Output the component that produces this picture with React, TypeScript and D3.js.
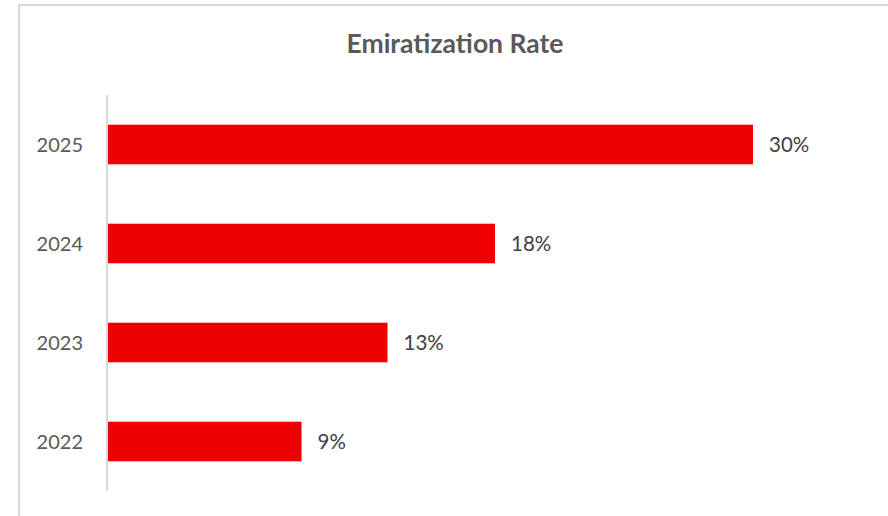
import React from "react";
import * as d3 from "d3";

const categories: string[] = ["2025", "2024", "2023", "2022"];
const values: number[] = [0.30, 0.18, 0.13, 0.09];
const valueLabels: string[] = ["30%", "18%", "13%", "9%"];
const title = "Emiratization Rate";

const W = 888;
const H = 516;
const FONT = "Lato, 'Open Sans', sans-serif";

export default function App() {
  const y = d3.scaleBand<string>().domain(categories).range([95, 491]).paddingInner(0.6).paddingOuter(0.3);
  const x = d3.scaleLinear().domain([0, 0.35]).range([108, 860.5]);

  return (
    <svg width={W} height={H} style={{ position: "absolute", left: 0, top: 0 }}>
      <rect x={0} y={0} width={W} height={H} fill="#ffffff" />
      <rect x={19} y={5} width={W + 20} height={H + 20} fill="none" stroke="#d9d9d9" strokeWidth={2} />
      <text x={455} y={53} textAnchor="middle" fontFamily={FONT} fontWeight="bold" fontSize={26.5} fill="#595959">
        {title}
      </text>
      {categories.map((c, i) => (
        <g key={c}>
          <rect
            x={x(0)}
            y={y(c)!}
            width={x(values[i]) - x(0)}
            height={y.bandwidth()}
            fill="#ee0000"
          />
          <text
            x={83}
            y={y(c)! + y.bandwidth() / 2}
            dy="0.35em"
            textAnchor="end"
            fontFamily={FONT}
            fontSize={20}
            fill="#595959"
          >
            {c}
          </text>
          <text
            x={x(values[i]) + 16}
            y={y(c)! + y.bandwidth() / 2}
            dy="0.35em"
            textAnchor="start"
            fontFamily={FONT}
            fontSize={20.5}
            fill="#404040"
          >
            {valueLabels[i]}
          </text>
        </g>
      ))}
      <line x1={107} x2={107} y1={95} y2={491} stroke="#d9d9d9" strokeWidth={2} />
    </svg>
  );
}
